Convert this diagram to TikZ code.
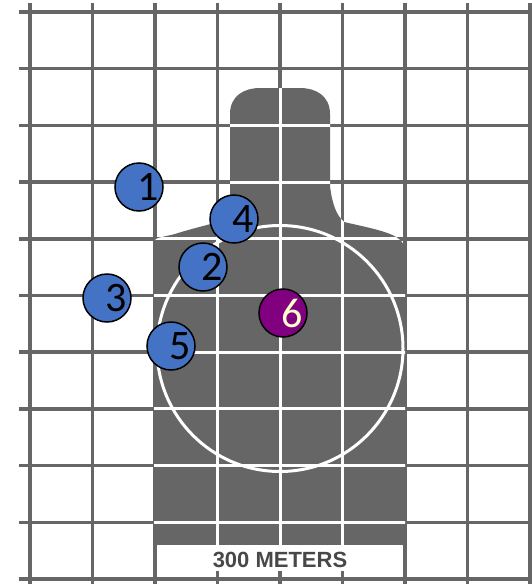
\documentclass[tikz,border=0pt]{standalone}
\usepackage{fontspec}
\setmainfont{Carlito}
\newfontfamily\rangefont{Liberation Sans}
\usetikzlibrary{positioning}

\definecolor{gridgray}{RGB}{102,102,102}
\definecolor{shotblue}{HTML}{4472C4}
\definecolor{shotpurple}{HTML}{800080}
\definecolor{paleyellow}{HTML}{FFFFCC}
\definecolor{textgray}{RGB}{72,72,72}

% outline of the target figure
\def\figurepath{(154,545) -- (154,244) .. controls (154,240) and (156,238) .. (162,237)
  -- (175,234) .. controls (200,226) and (222,222) .. (230,218) -- (230,114)
  .. controls (230,96) and (244,88) .. (260,88) -- (300,88)
  .. controls (316,88) and (330,96) .. (330,114) -- (330,186)
  .. controls (332,203) and (336,215) .. (344,222)
  .. controls (370,228) and (392,232) .. (400,240)
  .. controls (403,243) and (405,246) .. (405,250) -- (405,545) -- cycle}

\begin{document}
\begin{tikzpicture}[x=1pt,y=-1pt,
  gridline/.style={gridgray,line width=3.5pt},
  whiteline/.style={white,line width=3pt},
  shot/.style={circle,draw=black,line width=1.5pt,fill=shotblue,minimum size=48pt,inner sep=0pt},
  shotnum/.style={font=\fontsize{42}{42}\selectfont,text=black,xshift=9pt}]
  \useasboundingbox (0,0) rectangle (531,584);
  \fill[white] (0,0) rectangle (531,584);
  % grid
  \foreach \gx in {0,...,8} \draw[gridline] ({30+62.5*\gx},3) -- ({30+62.5*\gx},584);
  \foreach \gy in {0,...,10} \draw[gridline] (19,{12+56.7*\gy}) -- (531,{12+56.7*\gy});
  % silhouette
  \fill[gridgray] \figurepath;
  \begin{scope}
    \clip \figurepath;
    \foreach \gx in {217.5,280,342.5} \draw[whiteline] (\gx,80) -- (\gx,545);
    \foreach \gy in {2,...,9} \draw[whiteline] (150,{12+56.7*\gy}) -- (410,{12+56.7*\gy});
    \draw[whiteline] (280,348.5) circle (123);
  \end{scope}
  % range label
  \fill[white] (157,545) rectangle (402,571);
  \node[font=\rangefont\bfseries\fontsize{22}{22}\selectfont,text=textgray] (range) at (280,559.5) {300 METERS};
  % shots
  \node[shot,label={[shotnum]center:1}] (s1) at (139,187) {};
  \node[shot,label={[shotnum]center:2}] (s2) at (203,267) {};
  \node[shot,label={[shotnum]center:3}] (s3) at (107,298) {};
  \node[shot,label={[shotnum]center:4}] (s4) at (234,219) {};
  \node[shot,label={[shotnum]center:5}] (s5) at (171,346) {};
  \node[shot,fill=shotpurple,label={[shotnum,text=paleyellow]center:6}] (s6) at (283,313) {};
\end{tikzpicture}
\end{document}
